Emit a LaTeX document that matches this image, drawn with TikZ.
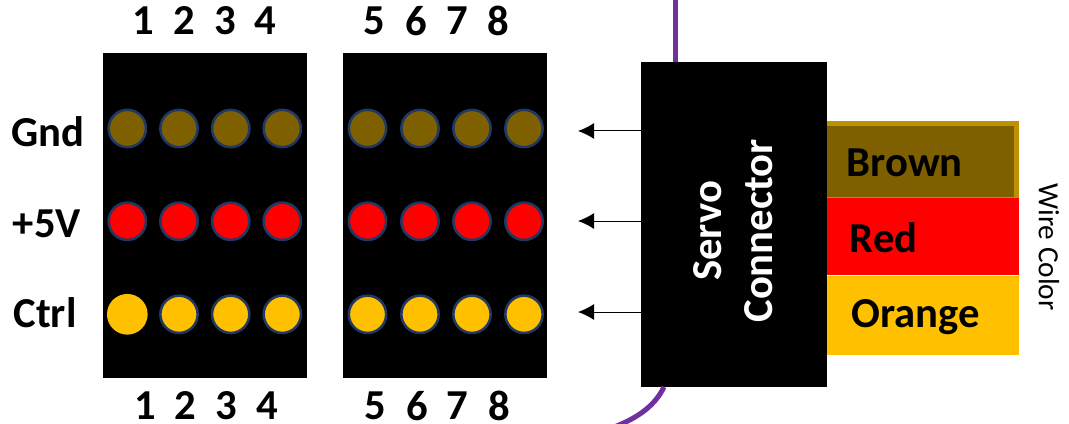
\documentclass[tikz,border=0pt]{standalone}
\usepackage{fontspec}
\setmainfont{Carlito}
\usepackage{tikz}
\usetikzlibrary{arrows.meta, positioning}
\usepackage{xcolor}
\definecolor{wirebrown}{HTML}{7F6000}
\definecolor{wiregold}{HTML}{BF9000}
\definecolor{wireorange}{HTML}{FFC000}
\definecolor{wirepurple}{HTML}{7030A0}
\definecolor{pinring}{HTML}{203864}

\begin{document}
\begin{tikzpicture}[
x=0.75pt, y=-0.75pt,
header/.style={font=\fontsize{32}{38}\selectfont\bfseries, inner sep=0pt},
block/.style={fill=black, inner sep=0pt, minimum width=153pt, minimum height=243.75pt},
pin/.style={circle, fill=#1, draw=pinring, line width=1.9pt, inner sep=0pt, minimum size=28pt},
strip/.style={fill=#1, inner sep=0pt, outer sep=0pt, minimum width=144pt, anchor=west},
arrow/.style={-{Latex[length=12pt, width=12pt]}, line width=0.75pt},
wire/.style={draw=wirepurple, line width=3.8pt}
]
\useasboundingbox (0,0) rectangle (1069,424);

% pin blocks
\node[block] (blockA) at (205,215.5) {};
\node[block] (blockB) at (445,215.5) {};

\foreach \x/\n in {127.3/1, 179/2, 230.7/3, 282.3/4, 367.5/5, 420/6, 472/7, 524/8} {
  \node[pin=wirebrown] (gnd\n) at (\x,128.5) {};
  \node[pin=red] (vcc\n) at (\x,221.3) {};
  \node[pin=wireorange] (ctrl\n) at (\x,314.3) {};
}
\node[circle, fill=wireorange, inner sep=0pt, minimum size=30.5pt] (ctrlone) at (127.3,314.3) {};

% numbers
\foreach \x/\n in {143/1, 184/2, 225/3, 265/4, 374/5, 416/6, 457/7, 498/8}
  \node[header] (top\n) at (\x,21) {\n};
\foreach \x/\n in {145/1, 185/2, 226/3, 267/4, 375/5, 417/6, 457/7, 499/8}
  \node[header] (bot\n) at (\x,406) {\n};

\node[header] (gndlabel) at (48,132) {Gnd};
\node[header] (vcclabel) at (47,224) {+5V};
\node[header] (ctrllabel) at (45,313) {Ctrl};

% wire colors
\node[strip=wirebrown, draw=wiregold, line width=3.4pt, minimum width=143.8pt, minimum height=56.6pt] (brown) at (825,161.25) {};
\node[strip=red, minimum height=58pt] (redstrip) at (827,236.2) {};
\node[strip=wireorange, minimum height=59.5pt] (orangestrip) at (827,315.3) {};

\node[header, right=0pt of brown.west, xshift=16pt, yshift=-1pt] (brownlabel) {Brown};
\node[header, right=0pt of redstrip.west, xshift=17pt, yshift=-1pt] (redlabel) {Red};
\node[header, right=0pt of orangestrip.west, xshift=18pt, yshift=-1pt] (orangelabel) {Orange};
\node[rotate=-90, font=\fontsize{22}{26}\selectfont, inner sep=0pt] (wirelabel) at (1049,247) {Wire Color};

% connector
\node[fill=black, inner sep=0pt, minimum width=139.5pt, minimum height=243.75pt] (servo) at (734,224.5) {};
\node[header, text=white, rotate=90, align=center] (servolabel) at (733,231) {Servo\\Connector};

\coordinate (gndtip) at (578,131);
\coordinate (vcctip) at (578,221);
\coordinate (ctrltip) at (578,312);
\draw[arrow] (servo.west |- gndtip) -- (gndtip);
\draw[arrow] (servo.west |- vcctip) -- (vcctip);
\draw[arrow] (servo.west |- ctrltip) -- (ctrltip);

\coordinate (wiretop) at (675.7,-3);
\coordinate (wirebase) at (664,387);
\coordinate (wireend) at (612,428);
\draw[wire] (wiretop) -- (servo.north -| wiretop);
\draw[wire] (wirebase) .. controls (655,405) and (640,417) .. (wireend);

\end{tikzpicture}
\end{document}
